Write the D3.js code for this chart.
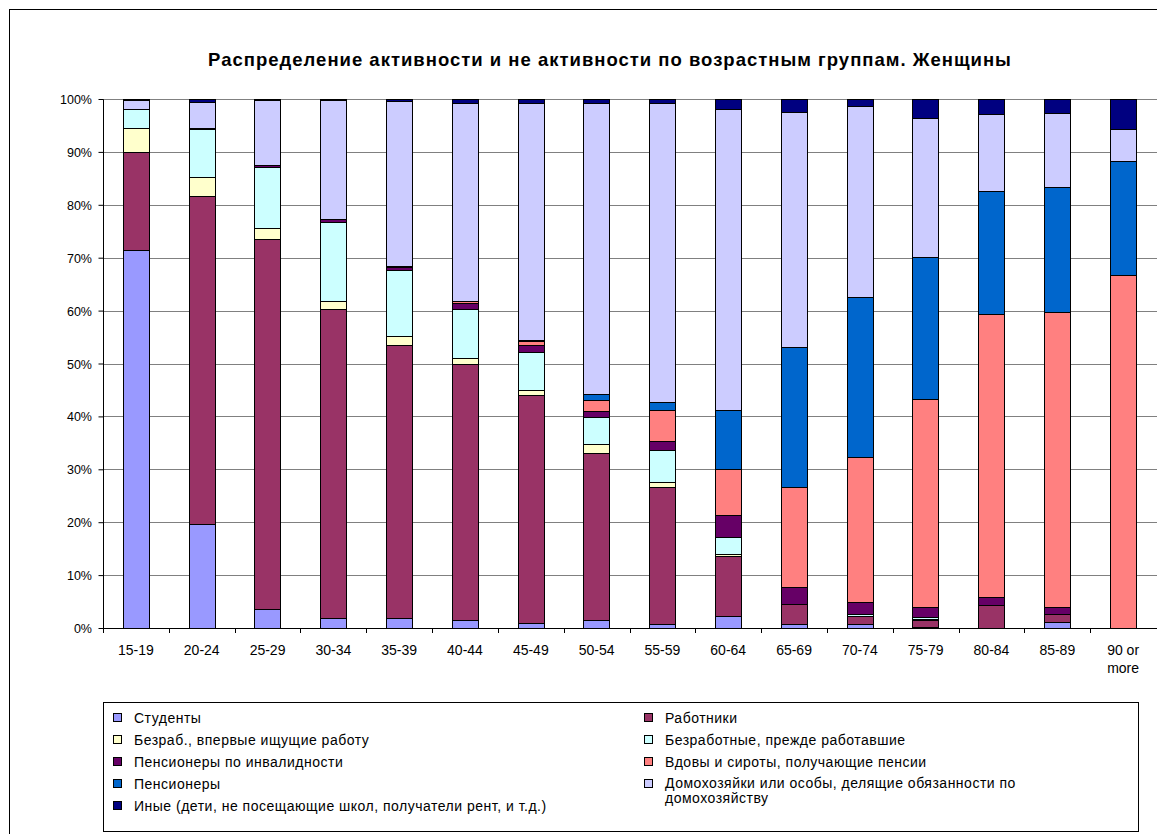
<!DOCTYPE html>
<html>
<head>
<meta charset="utf-8">
<script src="https://cdn.jsdelivr.net/npm/d3@7"></script>
<style>
  body { margin: 0; background: #fff; }
  text { font-family: "Liberation Sans", Arial, sans-serif; fill: #000; }
</style>
</head>
<body>
<svg id="chart"></svg>
<script>
// age groups
const ageGroups = ['15-19', '20-24', '25-29', '30-34', '35-39', '40-44', '45-49', '50-54',
  '55-59', '60-64', '65-69', '70-74', '75-79', '80-84', '85-89', '90 or more'];

// shares in %
const students   = [71.4, 19.7, 3.5, 1.8, 1.8, 1.5, 1.0, 1.45, 0.7, 2.2, 0.75, 0.7, 0.25, 0, 1.1, 0];
const workers    = [18.6, 62.0, 70.1, 58.5, 51.7, 48.4, 43.0, 31.6, 26.0, 11.4, 3.75, 1.5, 1.35, 4.3, 1.5, 0];
const firstUnemp = [4.6, 3.6, 2.0, 1.5, 1.7, 1.1, 1.0, 1.8, 0.9, 0.3, 0, 0.1, 0.1, 0, 0, 0];
const prevUnemp  = [3.5, 9.0, 11.6, 14.9, 12.5, 9.3, 7.2, 5.0, 6.0, 3.3, 0, 0.3, 0.4, 0, 0, 0];
const disabled   = [0, 0.3, 0.4, 0.7, 0.5, 1.0, 1.3, 1.1, 1.8, 4.1, 3.2, 2.3, 1.9, 1.5, 1.4, 0];
const widows     = [0, 0, 0, 0, 0.1, 0.4, 0.8, 2.1, 5.8, 8.7, 19.0, 27.4, 39.3, 53.6, 55.7, 66.7];
const pensioners = [0, 0, 0, 0, 0.1, 0.1, 0.1, 1.1, 1.5, 11.2, 26.4, 30.3, 26.8, 23.2, 23.6, 21.6];
const housewives = [1.7, 4.8, 12.15, 22.4, 31.1, 37.3, 44.8, 55.0, 56.5, 56.9, 44.4, 36.1, 26.4, 14.6, 14.0, 6.0];
const others     = [0.2, 0.6, 0.25, 0.2, 0.4, 0.8, 0.8, 0.8, 0.8, 1.9, 2.5, 1.3, 3.5, 2.8, 2.7, 5.7];

const seriesNames = ['Студенты', 'Работники', 'Безраб., впервые ищущие работу', 'Безработные, прежде работавшие',
  'Пенсионеры по инвалидности', 'Вдовы и сироты, получающие пенсии', 'Пенсионеры',
  'Домохозяйки или особы, делящие обязанности по домохозяйству',
  'Иные (дети, не посещающие школ, получатели рент, и т.д.)'];
const seriesValues = [students, workers, firstUnemp, prevUnemp, disabled, widows, pensioners, housewives, others];
const seriesColors = ['#9999ff', '#993366', '#ffffcc', '#ccffff', '#660066', '#ff8080', '#0066cc', '#ccccff', '#000080'];

const yTicks = [0, 0.1, 0.2, 0.3, 0.4, 0.5, 0.6, 0.7, 0.8, 0.9, 1];

class StackedPercentChart {

  constructor(_config) {
    this.config = {
      parentElement: _config.parentElement,
      containerWidth: _config.containerWidth || 1157,
      containerHeight: _config.containerHeight || 834,
      margin: _config.margin || { top: 99, right: 1, bottom: 206, left: 103 }
    };
    this.initVis();
  }

  initVis() {
    let vis = this;

    vis.svg = d3.select(vis.config.parentElement)
        .attr('width', vis.config.containerWidth)
        .attr('height', vis.config.containerHeight);

    vis.width = vis.config.containerWidth - vis.config.margin.left - vis.config.margin.right;
    vis.height = vis.config.containerHeight - vis.config.margin.top - vis.config.margin.bottom;

    // outer chart frame (runs off the right and bottom of the picture)
    vis.svg.append('rect')
        .attr('x', 9.5).attr('y', 9.5)
        .attr('width', 1300).attr('height', 1000)
        .attr('fill', 'none').attr('stroke', '#000');

    vis.svg.append('text')
        .attr('x', 610).attr('y', 66)
        .attr('text-anchor', 'middle')
        .style('font-size', '18.5px')
        .style('font-weight', 'bold')
        .style('letter-spacing', '1px')
        .text('Распределение активности и не активности по возрастным группам. Женщины');

    vis.chart = vis.svg.append('g')
        .attr('transform', `translate(${vis.config.margin.left},${vis.config.margin.top})`);

    vis.gridG = vis.chart.append('g');
    vis.barsG = vis.chart.append('g');
    vis.xAxisG = vis.chart.append('g').attr('transform', `translate(0,${vis.height})`);
    vis.yAxisG = vis.chart.append('g');
    vis.legendG = vis.svg.append('g');
  }

  update() {
    let vis = this;

    vis.data = ageGroups.map((g, i) => {
      let row = { group: g };
      seriesNames.forEach((s, j) => { row[s] = seriesValues[j][i]; });
      return row;
    });

    vis.stack = d3.stack()
        .keys(seriesNames)
        .offset(d3.stackOffsetExpand)(vis.data);

    vis.xScale = d3.scaleBand()
        .domain(ageGroups)
        .range([0, vis.width])
        .paddingInner(0.6)
        .paddingOuter(0.3);

    // band used only for axis ticks at category boundaries
    vis.xCat = d3.scaleBand().domain(ageGroups).range([0, vis.width]);

    vis.yScale = d3.scaleLinear()
        .domain([0, 1])
        .range([vis.height, 0]);

    vis.color = d3.scaleOrdinal().domain(seriesNames).range(seriesColors);

    vis.render();
  }

  render() {
    let vis = this;

    // gridlines
    vis.gridG.selectAll('line')
      .data(yTicks.slice(1))
      .join('line')
        .attr('x1', 0).attr('x2', vis.width + 5)
        .attr('y1', d => Math.round(vis.yScale(d)) + 0.5)
        .attr('y2', d => Math.round(vis.yScale(d)) + 0.5)
        .attr('stroke', '#808080');

    let layer = vis.barsG.selectAll('.layer')
      .data(vis.stack)
      .join('g')
        .attr('class', 'layer')
        .attr('fill', d => vis.color(d.key));

    layer.selectAll('rect')
      .data(d => d.filter(p => p[1] - p[0] > 0.0005))
      .join('rect')
        .attr('x', d => Math.round(vis.xScale(d.data.group)) + 0.5)
        .attr('y', d => Math.round(vis.yScale(d[1])) + 0.5)
        .attr('width', Math.round(vis.xScale.bandwidth()))
        .attr('height', d => Math.max(0, Math.round(vis.yScale(d[0])) - Math.round(vis.yScale(d[1]))))
        .attr('stroke', '#000')
        .attr('stroke-width', 1);

    // y axis
    let yAxis = d3.axisLeft(vis.yScale)
        .tickValues(yTicks)
        .tickFormat(d3.format('.0%'))
        .tickSize(5)
        .tickPadding(6);

    vis.yAxisG.call(yAxis);
    vis.yAxisG.select('.domain').attr('d', `M0.5,0.5V${vis.height + 0.5}`);
    vis.yAxisG.selectAll('.tick line').attr('transform', 'translate(0.5,0)');
    vis.yAxisG.selectAll('text')
        .style('font-size', '12.5px')
        .attr('dy', '0.36em');

    // x axis
    let xAxis = d3.axisBottom(vis.xCat)
        .tickSize(0)
        .tickPadding(17);

    vis.xAxisG.call(xAxis);
    vis.xAxisG.select('.domain').attr('d', `M0,0.5H${vis.width + 5}`);
    vis.xAxisG.selectAll('text').style('font-size', '14px');

    // boundary ticks
    vis.xAxisG.selectAll('.bound')
      .data(ageGroups)
      .join('line')
        .attr('class', 'bound')
        .attr('x1', d => Math.round(vis.xCat(d)) + 0.5)
        .attr('x2', d => Math.round(vis.xCat(d)) + 0.5)
        .attr('y1', 0).attr('y2', 5)
        .attr('stroke', '#000');

    // "90 or more" wraps to two lines
    vis.xAxisG.selectAll('.tick text')
      .filter(d => d === '90 or more')
      .text(null)
      .call(t => {
        t.append('tspan').attr('x', 0).text('90 or');
        t.append('tspan').attr('x', 0).attr('dy', '1.3em').text('more');
      });

    vis.renderLegend();
  }

  renderLegend() {
    let vis = this;

    vis.legendG.append('rect')
        .attr('x', 103.5).attr('y', 702.5)
        .attr('width', 1035).attr('height', 129)
        .attr('fill', '#fff').attr('stroke', '#000');

    let rowH = 22;
    let items = vis.legendG.selectAll('.item')
      .data(seriesNames)
      .join('g')
        .attr('class', 'item')
        .attr('transform', (d, i) => {
          let col = i % 2, row = Math.floor(i / 2);
          return `translate(${col === 0 ? 113 : 644},${718 + row * rowH})`;
        });

    items.append('rect')
        .attr('x', 0.5).attr('y', -4.5)
        .attr('width', 8).attr('height', 8)
        .attr('fill', d => vis.color(d))
        .attr('stroke', '#000');

    items.append('text')
        .attr('x', 21)
        .attr('dy', '0.35em')
        .style('font-size', '14px')
        .style('letter-spacing', '0.5px')
        .each(function(d) {
          let t = d3.select(this);
          if (d.startsWith('Домохозяйки')) {
            t.attr('dy', null).attr('y', 4);
            t.append('tspan').attr('x', 21).text('Домохозяйки или особы, делящие обязанности по');
            t.append('tspan').attr('x', 21).attr('dy', '1.05em').text('домохозяйству');
          } else {
            t.text(d);
          }
        });
  }
}

const chart = new StackedPercentChart({ parentElement: '#chart' });
chart.update();
</script>
</body>
</html>
